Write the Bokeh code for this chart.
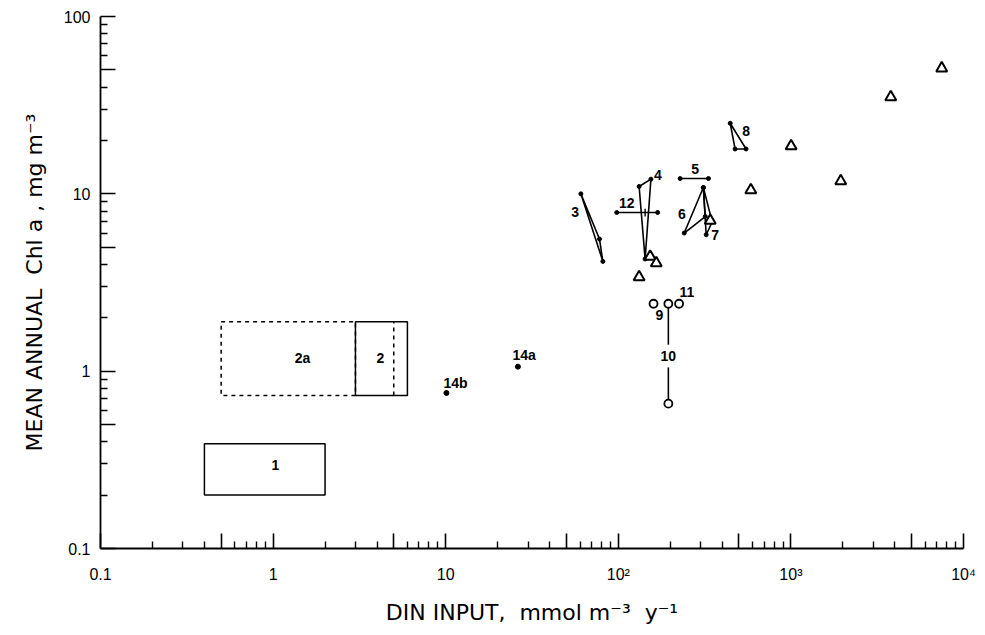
from bokeh.plotting import figure
from bokeh.models import Range1d, FixedTicker, CustomJSTickFormatter
from bokeh.core.properties import value
from bokeh.embed import file_html
from bokeh.resources import INLINE

# ---------------- data ----------------
# rectangles: ranges of DIN input and Chl a
box_names = ["1", "2", "2a"]
box_x0 = [0.4, 3.0, 0.5]
box_x1 = [2.0, 6.0, 3.0]
box_y0 = [0.20, 0.73, 0.73]
box_y1 = [0.39, 1.9, 1.9]
box2_inner_x = 5.0

# systems drawn as triangles joining annual values
poly_names = ["3", "4", "6", "7", "8"]
poly_x = [[60.7, 77.8, 81.4], [132, 154.5, 143], [311, 241, 319], [311, 350, 323], [445, 475, 550]]
poly_y = [[10.0, 5.56, 4.16], [11.0, 12.1, 4.29], [10.85, 6.01, 7.45], [10.85, 6.95, 5.88], [25.0, 17.9, 17.9]]

# horizontal ranges
range_names = ["5", "12"]
range_x0 = [228, 98]
range_x1 = [333, 169]
range_y = [12.2, 7.85]
range12_mark = 143

# single points 14a, 14b
pt_names = ["14a", "14b"]
pt_x = [26.2, 10.1]
pt_y = [1.06, 0.753]

# open circles 9, 10, 11 and the low value of 10
circ_names = ["9", "10", "11"]
circ_x = [160, 195, 225]
circ_y = [2.4, 2.4, 2.4]
circ10_low = 0.656

# open triangles
tri_x = [132, 153, 166, 341, 586, 1003, 1945, 3790, 7480]
tri_y = [3.39, 4.43, 4.07, 7.07, 10.5, 18.6, 11.8, 35.1, 51.1]

# label texts and anchors
lab_text = ["1", "2a", "2", "14a", "14b", "3", "12", "4", "5", "6", "7", "8", "9", "10", "11"]
lab_x = [1.03, 1.48, 4.18, 28.5, 11.4, 56.3, 112, 169.6, 279, 233.5, 364, 550, 173, 195, 250]
lab_y = [0.297, 1.19, 1.19, 1.24, 0.86, 7.95, 8.87, 12.8, 13.8, 7.71, 5.88, 22.7, 2.08, 1.22, 2.78]

# axis ticks
x_tick_vals = [0.1, 1, 10, 100, 1000, 10000]
x_tick_labels = ["0.1", "1", "10", "10\u00b2", "10\u00b3", "10\u2074"]
y_tick_vals = [0.1, 1, 10, 100]
y_tick_labels = ["0.1", "1", "10", "100"]

# ---------------- figure ----------------
FONT = "Liberation Sans"
TITLE_FONT = "DejaVu Sans"
p = figure(width=977, height=627, x_axis_type="log", y_axis_type="log",
           x_range=Range1d(0.1, 10000), y_range=Range1d(0.1, 100),
           output_backend="svg", toolbar_location=None,
           min_border_left=100, min_border_right=14, min_border_top=16, min_border_bottom=78)
p.outline_line_color = None
p.xgrid.visible = False
p.ygrid.visible = False


def ticks_for(decades):
    major, minor = [], []
    for d in decades:
        major += [d, 5 * d]
        minor += [k * d for k in (2, 3, 4, 6, 7, 8, 9)]
    return major, minor


xm, xn = ticks_for([0.1, 1, 10, 100, 1000])
xm.append(10000)
ym, yn = ticks_for([0.1, 1, 10])
ym.append(100)

fmt_code = """
for (let i = 0; i < vals.length; i++) {
  if (Math.abs(tick - vals[i]) < 1e-9 * vals[i]) return labs[i];
}
return "";
"""
p.xaxis.ticker = FixedTicker(ticks=xm, minor_ticks=xn)
p.xaxis.formatter = CustomJSTickFormatter(args=dict(vals=x_tick_vals, labs=x_tick_labels), code=fmt_code)
p.yaxis.ticker = FixedTicker(ticks=ym, minor_ticks=yn)
p.yaxis.formatter = CustomJSTickFormatter(args=dict(vals=y_tick_vals, labs=y_tick_labels), code=fmt_code)

for ax in (p.xaxis[0], p.yaxis[0]):
    ax.major_tick_in = 15
    ax.major_tick_out = 0
    ax.minor_tick_in = 7
    ax.minor_tick_out = 0
    ax.axis_line_width = 1.8
    ax.major_tick_line_width = 1.6
    ax.minor_tick_line_width = 1.4
    ax.axis_line_color = "black"
    ax.major_tick_line_color = "black"
    ax.minor_tick_line_color = "black"
    ax.major_label_text_font = FONT
    ax.major_label_text_font_size = "16px"
    ax.major_label_text_color = "black"
    ax.axis_label_text_font = TITLE_FONT
    ax.axis_label_text_font_size = "22px"
    ax.axis_label_text_font_style = "normal"
    ax.axis_label_text_color = "black"

p.xaxis.major_label_standoff = 17
p.xaxis.axis_label_standoff = 14
p.yaxis.major_label_standoff = 10
p.yaxis.axis_label_standoff = 14
p.xaxis.axis_label = "DIN INPUT,\u00a0\u00a0mmol m\u207b\u00b3\u00a0\u00a0y\u207b\u00b9"
p.yaxis.axis_label = "MEAN ANNUAL\u00a0\u00a0Chl a\u00a0, mg m\u207b\u00b3"

# rectangles
p.quad(left=[box_x0[2]], right=[box_x1[2]], bottom=[box_y0[2]], top=[box_y1[2]],
       fill_color=None, line_color="black", line_width=1.5, line_dash="4 4")
p.quad(left=box_x0[:2], right=box_x1[:2], bottom=box_y0[:2], top=box_y1[:2],
       fill_color=None, line_color="black", line_width=1.5)
p.segment(x0=[box2_inner_x], y0=[box_y0[1]], x1=[box2_inner_x], y1=[box_y1[1]],
          line_color="black", line_width=1.5, line_dash="4 4")

# polygons
p.patches(xs=poly_x, ys=poly_y, fill_color=None, line_color="black", line_width=1.6)
vx = [v for xs in poly_x for v in xs]
vy = [v for ys in poly_y for v in ys]
p.scatter(vx, vy, size=4, color="black")

# horizontal ranges
p.segment(x0=range_x0, y0=range_y, x1=range_x1, y1=range_y, line_color="black", line_width=1.6)
p.scatter(range_x0 + range_x1, range_y + range_y, size=4, color="black")
p.segment(x0=[range12_mark], y0=[range_y[1] * 0.95], x1=[range12_mark], y1=[range_y[1] * 1.05],
          line_color="black", line_width=1.4)

# points 14a, 14b
p.scatter(pt_x, pt_y, size=5, color="black")

# line of 10 (broken around its label)
p.segment(x0=[circ_x[1], circ_x[1]], y0=[circ_y[1], 1.05], x1=[circ_x[1], circ_x[1]], y1=[1.41, circ10_low],
          line_color="black", line_width=1.6)
p.scatter(circ_x + [circ_x[1]], circ_y + [circ10_low], marker="circle", size=8,
          fill_color="white", line_color="black", line_width=1.8)

# triangles
p.scatter(tri_x, tri_y, marker="triangle", size=11, fill_color="white",
          line_color="black", line_width=2)

# labels
p.text(x=lab_x, y=lab_y, text=lab_text, text_font=value(FONT), text_font_size="14px",
       text_font_style="bold", text_align="center", text_baseline="middle", text_color="black")

open("out.html", "w").write(file_html(p, INLINE))
